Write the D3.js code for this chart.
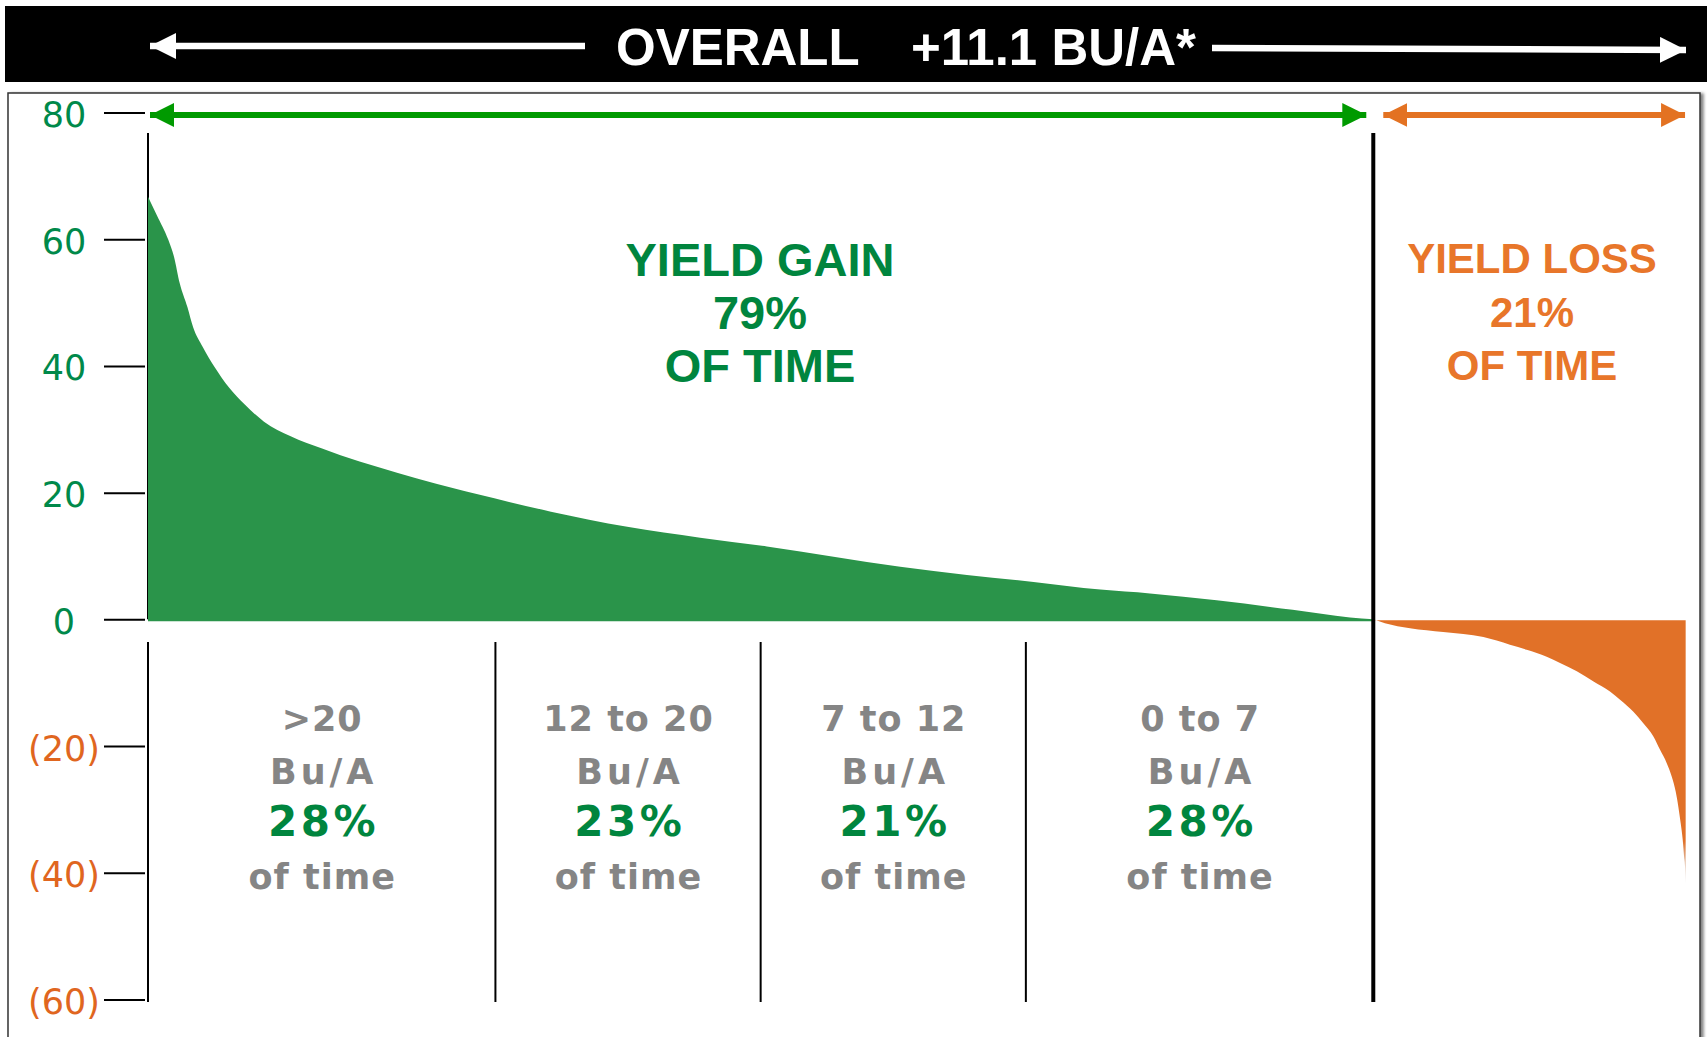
<!DOCTYPE html>
<html>
<head>
<meta charset="utf-8">
<script src="https://cdn.jsdelivr.net/npm/d3@7"></script>
<style>
  body { margin: 0; background: #fff; }
  svg { display: block; }
</style>
</head>
<body>
<div id="chart"></div>
<script>
// sorted yield difference curve, x = percent of comparisons, y = Bu/A
var gainPct = [0, 0.57, 1.31, 1.68, 2.05, 2.54, 2.91, 3.53, 4.27, 5.25, 6.24, 7.48, 9.2, 11.18, 13.64, 16.11, 18.58, 22.33, 25.98, 30.9, 35.6, 39.9, 44.2, 48.5, 52.8, 57.1, 61.4, 64.6, 68.9, 73.8, 77.5, 79.0];
var gainVal = [66.7, 63.8, 59.9, 57.2, 53.0, 49.3, 46.1, 43.0, 39.9, 36.5, 33.9, 31.2, 28.9, 27.0, 24.9, 23.1, 21.4, 19.1, 17.0, 14.6, 12.9, 11.5, 9.9, 8.3, 7.0, 5.9, 4.7, 4.1, 3.0, 1.5, 0.3, 0];
var lossPct = [79.0, 79.75, 81.37, 83.51, 86.1, 87.81, 88.89, 90.18, 91.04, 92.12, 93.2, 94.26, 94.91, 95.77, 96.41, 97.06, 97.49, 97.92, 98.24, 98.5, 98.67, 98.82, 98.95, 99.04, 99.1, 99.14];
var lossVal = [0, -0.6, -1.4, -2.0, -2.8, -4.0, -4.8, -5.9, -6.9, -8.2, -9.8, -11.4, -12.7, -14.6, -16.4, -18.5, -20.6, -22.7, -24.8, -27.2, -29.6, -32.2, -34.8, -37.5, -39.0, -41.7];

var yTicks = [80, 60, 40, 20, 0, -20, -40, -60];

var bandNames = [">20", "12 to 20", "7 to 12", "0 to 7"];
var bandShare = ["28%", "23%", "21%", "28%"];
var bandEdges = [0, 22.4, 39.5, 56.6, 79];

var gainLines = ["YIELD GAIN", "79%", "OF TIME"];
var lossLines = ["YIELD LOSS", "21%", "OF TIME"];
var gainShare = 79;

var W = 1707, H = 1037;
var green = "#2a944a", orange = "#e17128";
var textGreen = "#00853e", textOrange = "#e8762a";

var svg = d3.select("#chart").append("svg")
    .attr("width", W)
    .attr("height", H);

var x = d3.scaleLinear().domain([0, 100]).range([148, 1699]);
var y = d3.scaleLinear().domain([80, -60]).range([112.5, 999.5]);

var defs = svg.append("defs");
defs.append("filter").attr("id", "shadow")
    .attr("x", "-5%").attr("y", "-5%").attr("width", "110%").attr("height", "110%")
    .append("feDropShadow")
    .attr("dx", 3).attr("dy", 1).attr("stdDeviation", 1.5)
    .attr("flood-color", "#666").attr("flood-opacity", 0.8);

// fade at the very bottom of the loss tail
var fade = defs.append("linearGradient").attr("id", "fade")
    .attr("gradientUnits", "userSpaceOnUse")
    .attr("x1", 0).attr("x2", 0).attr("y1", y(-35)).attr("y2", y(-42));
fade.append("stop").attr("offset", 0).attr("stop-color", orange);
fade.append("stop").attr("offset", 1).attr("stop-color", "#c9c9c9").attr("stop-opacity", 0.4);

function arrowHead(id, color) {
    defs.append("marker").attr("id", id)
        .attr("viewBox", "0 0 10 10").attr("refX", 10).attr("refY", 5)
        .attr("markerWidth", 4).attr("markerHeight", 4)
        .attr("markerUnits", "strokeWidth")
        .attr("orient", "auto-start-reverse")
        .append("path").attr("d", "M0,0 L10,5 L0,10 Z").attr("fill", color);
}
arrowHead("hw", "#fff");
arrowHead("hg", "#009a00");
arrowHead("ho", "#e37222");

// frame
svg.append("rect")
    .attr("x", 8).attr("y", 93).attr("width", 1692).attr("height", 980)
    .attr("fill", "#fff").attr("stroke", "#333").attr("stroke-width", 1.5)
    .attr("filter", "url(#shadow)");

// header bar
svg.append("rect").attr("x", 5).attr("y", 6).attr("width", W - 5).attr("height", 76).attr("fill", "#000");
svg.append("text").attr("x", 616).attr("y", 65)
    .attr("font-family", "Liberation Sans, Arial, sans-serif").attr("font-weight", "bold")
    .attr("font-size", 51).attr("fill", "#fff").text("OVERALL");
svg.append("text").attr("x", 911).attr("y", 65)
    .attr("font-family", "Liberation Sans, Arial, sans-serif").attr("font-weight", "bold")
    .attr("font-size", 51).attr("fill", "#fff").text("+11.1 BU/A*");
svg.append("line").attr("x1", 585).attr("x2", 150).attr("y1", 46).attr("y2", 46)
    .attr("stroke", "#fff").attr("stroke-width", 6.5).attr("marker-end", "url(#hw)");
svg.append("line").attr("x1", 1212).attr("x2", 1686).attr("y1", 48).attr("y2", 50)
    .attr("stroke", "#fff").attr("stroke-width", 6.5).attr("marker-end", "url(#hw)");

// left vertical line behind the area
svg.append("line").attr("x1", x(0)).attr("x2", x(0)).attr("y1", 133).attr("y2", y(0))
    .attr("stroke", "#000").attr("stroke-width", 2);

// areas
var area = d3.area()
    .x(function(d) { return x(d[0]); })
    .y0(y(0) + 2)
    .y1(function(d) { return y(d[1]); })
    .curve(d3.curveMonotoneX);

svg.append("path")
    .datum(d3.zip(gainPct, gainVal))
    .attr("d", area).attr("fill", green);
svg.append("path")
    .datum(d3.zip(lossPct, lossVal))
    .attr("d", area.y0(y(0) + 1)).attr("fill", "url(#fade)");

// y axis
var yAxis = d3.axisLeft(y)
    .tickValues(yTicks)
    .tickSize(41)
    .tickFormat(function(d) { return d < 0 ? "(" + (-d) + ")" : d; });

var ax = svg.append("g").attr("transform", "translate(145,0)").call(yAxis);
ax.select(".domain").remove();
ax.selectAll(".tick line").attr("stroke", "#000").attr("stroke-width", 2);
ax.selectAll(".tick text")
    .attr("x", -81).attr("dy", "0.4em")
    .attr("text-anchor", "middle")
    .attr("font-family", "DejaVu Sans, Verdana, sans-serif")
    .attr("font-size", 35)
    .attr("fill", function(d) { return d < 0 ? "#e0661f" : "#00894a"; });

// band dividers below zero
svg.selectAll(".divider").data(bandEdges.slice(0, 4)).enter()
    .append("line").attr("class", "divider")
    .attr("x1", function(d) { return x(d); }).attr("x2", function(d) { return x(d); })
    .attr("y1", 642).attr("y2", 1002)
    .attr("stroke", "#000").attr("stroke-width", 2);

// gain / loss split line
svg.append("line").attr("x1", x(gainShare)).attr("x2", x(gainShare))
    .attr("y1", 133).attr("y2", 1002)
    .attr("stroke", "#000").attr("stroke-width", 4);

// top arrows
svg.append("line").attr("x1", x(0) + 2).attr("x2", x(gainShare) - 7).attr("y1", 115).attr("y2", 115)
    .attr("stroke", "#009a00").attr("stroke-width", 6)
    .attr("marker-start", "url(#hg)").attr("marker-end", "url(#hg)");
svg.append("line").attr("x1", x(gainShare) + 10).attr("x2", x(99.1)).attr("y1", 115).attr("y2", 115)
    .attr("stroke", "#e37222").attr("stroke-width", 6)
    .attr("marker-start", "url(#ho)").attr("marker-end", "url(#ho)");

// big labels
svg.selectAll(".gainlbl").data(gainLines).enter()
    .append("text").attr("class", "gainlbl")
    .attr("x", 760).attr("y", function(d, i) { return 276 + i * 53; })
    .attr("text-anchor", "middle")
    .attr("font-family", "Liberation Sans, Arial, sans-serif").attr("font-weight", "bold")
    .attr("font-size", 47).attr("fill", textGreen)
    .text(function(d) { return d; });

svg.selectAll(".losslbl").data(lossLines).enter()
    .append("text").attr("class", "losslbl")
    .attr("x", 1532).attr("y", function(d, i) { return 273 + i * 53.5; })
    .attr("text-anchor", "middle")
    .attr("font-family", "Liberation Sans, Arial, sans-serif").attr("font-weight", "bold")
    .attr("font-size", 42).attr("fill", textOrange)
    .text(function(d) { return d; });

// band labels
bandNames.forEach(function(name, i) {
    var cx = (x(bandEdges[i]) + x(bandEdges[i + 1])) / 2;
    var rows = [
        { t: name, c: "#858585", s: 35, ls: 1 },
        { t: "Bu/A", c: "#858585", s: 35, ls: 4 },
        { t: bandShare[i], c: textGreen, s: 42, ls: 3.5 },
        { t: "of time", c: "#858585", s: 35, ls: 1 }
    ];
    rows.forEach(function(r, j) {
        svg.append("text")
            .attr("x", cx + r.ls / 2).attr("y", 731 + j * 52.5)
            .attr("text-anchor", "middle")
            .attr("font-family", "DejaVu Sans, Verdana, sans-serif").attr("font-weight", "bold")
            .attr("font-size", r.s).attr("letter-spacing", r.ls)
            .attr("fill", r.c).text(r.t);
    });
});
</script>
</body>
</html>
